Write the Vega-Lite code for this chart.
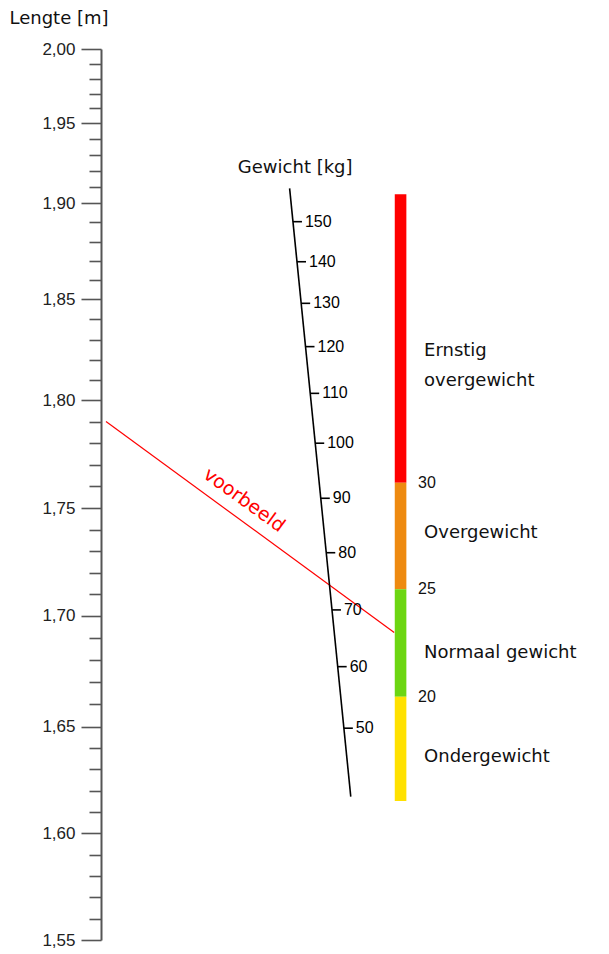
{
  "$schema": "https://vega.github.io/schema/vega-lite/v6.json",
  "width": 508,
  "height": 954,
  "autosize": {"type": "none"},
  "padding": {"left": 101, "top": 0, "right": 0, "bottom": 0},
  "background": "white",
  "view": {"stroke": null},
  "datasets": {
    "voorbeeld": [
      {"positie": 0, "lengte": 1.79, "positie_eind": 57.87, "lengte_eind": 1.6924}
    ],
    "voorbeeld_label": [
      {"positie": 27.76, "lengte": 1.7537, "label": "voorbeeld"}
    ],
    "gewichtsas": [
      {"positie": 36.87, "lengte": 1.9092, "positie_eind": 49.15, "lengte_eind": 1.6172}
    ],
    "gewichtsas_titel": [
      {"positie": 37.99, "lengte": 1.922, "label": "Gewicht [kg]"}
    ],
    "gewicht": [
      {"gewicht": 150, "positie": 37.54, "lengte": 1.8903},
      {"gewicht": 140, "positie": 38.35, "lengte": 1.8695},
      {"gewicht": 130, "positie": 39.19, "lengte": 1.848},
      {"gewicht": 120, "positie": 40.06, "lengte": 1.8265},
      {"gewicht": 110, "positie": 41.0, "lengte": 1.8033},
      {"gewicht": 100, "positie": 42.01, "lengte": 1.78},
      {"gewicht": 90, "positie": 43.13, "lengte": 1.7545},
      {"gewicht": 80, "positie": 44.23, "lengte": 1.7292},
      {"gewicht": 70, "positie": 45.37, "lengte": 1.7026},
      {"gewicht": 60, "positie": 46.52, "lengte": 1.677},
      {"gewicht": 50, "positie": 47.76, "lengte": 1.6493}
    ],
    "bmi_klassen": [
      {"categorie": "Ernstig overgewicht", "positie": 59.15, "lengte": 1.7617, "lengte_eind": 1.9055},
      {"categorie": "Overgewicht", "positie": 59.15, "lengte": 1.7122, "lengte_eind": 1.7617},
      {"categorie": "Normaal gewicht", "positie": 59.15, "lengte": 1.6635, "lengte_eind": 1.7122},
      {"categorie": "Ondergewicht", "positie": 59.15, "lengte": 1.6151, "lengte_eind": 1.6635}
    ],
    "bmi_grenzen": [
      {"bmi": 30, "positie": 59.15, "lengte": 1.7617},
      {"bmi": 25, "positie": 59.15, "lengte": 1.7122},
      {"bmi": 20, "positie": 59.15, "lengte": 1.6635}
    ],
    "bmi_labels": [
      {"label": "Ernstig\novergewicht", "positie": 59.15, "lengte": 1.8243},
      {"label": "Overgewicht", "positie": 59.15, "lengte": 1.7384},
      {"label": "Normaal gewicht", "positie": 59.15, "lengte": 1.6833},
      {"label": "Ondergewicht", "positie": 59.15, "lengte": 1.6359}
    ]
  },
  "encoding": {
    "x": {"field": "positie", "type": "quantitative", "scale": {"domain": [0, 100], "zero": false, "nice": false}, "axis": null},
    "y": {
      "field": "lengte",
      "type": "quantitative",
      "scale": {
        "domain": [1.55, 1.6, 1.65, 1.7, 1.75, 1.8, 1.85, 1.9, 1.95, 2.0],
        "range": [940, 833.3, 726.7, 615.5, 508, 400, 299.3, 203, 123.3, 49],
        "zero": false,
        "nice": false
      },
      "axis": {
        "title": "Lengte [m]",
        "titleAngle": 0,
        "titleAlign": "left",
        "titleBaseline": "middle",
        "titleX": -92,
        "titleY": 18,
        "titleFont": "DejaVu Sans",
        "titleFontSize": 18,
        "titleFontWeight": "normal",
        "titleColor": "#111111",
        "values": [1.55, 1.56, 1.57, 1.58, 1.59, 1.6, 1.61, 1.62, 1.63, 1.64, 1.65, 1.66, 1.67, 1.68, 1.69, 1.7, 1.71, 1.72, 1.73, 1.74, 1.75, 1.76, 1.77, 1.78, 1.79, 1.8, 1.81, 1.82, 1.83, 1.84, 1.85, 1.86, 1.87, 1.88, 1.89, 1.9, 1.91, 1.92, 1.93, 1.94, 1.95, 1.96, 1.97, 1.98, 1.99, 2.0],
        "labelExpr": "round(datum.value * 100) % 5 == 0 ? replace(format(datum.value, '.2f'), '.', ',') : ''",
        "labelFont": "Liberation Sans",
        "labelFontSize": 17,
        "labelColor": "#222222",
        "labelBaseline": "middle",
        "labelPadding": 6,
        "labelOverlap": false,
        "labelBound": false,
        "tickSize": {"condition": {"test": "round(datum.value * 100) % 5 == 0", "value": 20}, "value": 12},
        "tickWidth": 1.6,
        "tickColor": "#555555",
        "domainColor": "#555555",
        "domainWidth": 2,
        "grid": false
      }
    }
  },
  "layer": [
    {
      "data": {"name": "voorbeeld"},
      "mark": {"type": "rule", "color": "#FF0000", "strokeWidth": 1.2},
      "encoding": {
        "x2": {"field": "positie_eind"},
        "y2": {"field": "lengte_eind"}
      }
    },
    {
      "data": {"name": "voorbeeld_label"},
      "mark": {"type": "text", "font": "DejaVu Sans", "fontSize": 19, "color": "#FF0000", "angle": 36, "align": "center", "baseline": "middle"},
      "encoding": {
        "text": {"field": "label"}
      }
    },
    {
      "data": {"name": "gewichtsas"},
      "mark": {"type": "rule", "color": "#000000", "strokeWidth": 1.6},
      "encoding": {
        "x2": {"field": "positie_eind"},
        "y2": {"field": "lengte_eind"}
      }
    },
    {
      "data": {"name": "gewichtsas_titel"},
      "mark": {"type": "text", "font": "DejaVu Sans", "fontSize": 18, "color": "#111111", "align": "center", "baseline": "middle"},
      "encoding": {
        "text": {"field": "label"}
      }
    },
    {
      "data": {"name": "gewicht"},
      "mark": {"type": "rule", "color": "#000000", "strokeWidth": 1.6, "x2Offset": 9},
      "encoding": {
        "x2": {"field": "positie"}
      }
    },
    {
      "data": {"name": "gewicht"},
      "mark": {"type": "text", "font": "Liberation Sans", "fontSize": 16, "color": "#000000", "align": "left", "baseline": "middle", "dx": 12},
      "encoding": {
        "text": {"field": "gewicht", "type": "quantitative"}
      }
    },
    {
      "data": {"name": "bmi_klassen"},
      "mark": {"type": "bar", "width": 11.6},
      "encoding": {
        "y2": {"field": "lengte_eind"},
        "color": {
          "field": "categorie",
          "type": "nominal",
          "scale": {
            "domain": ["Ondergewicht", "Normaal gewicht", "Overgewicht", "Ernstig overgewicht"],
            "range": ["#FFE100", "#6CD612", "#EE8A10", "#FF0000"]
          },
          "legend": null
        }
      }
    },
    {
      "data": {"name": "bmi_grenzen"},
      "mark": {"type": "text", "font": "Liberation Sans", "fontSize": 16, "color": "#111111", "align": "left", "baseline": "middle", "dx": 17.5},
      "encoding": {
        "text": {"field": "bmi", "type": "quantitative"}
      }
    },
    {
      "data": {"name": "bmi_labels"},
      "mark": {"type": "text", "font": "DejaVu Sans", "fontSize": 18, "color": "#111111", "align": "left", "baseline": "middle", "dx": 23.5, "lineBreak": "\n", "lineHeight": 30},
      "encoding": {
        "text": {"field": "label"}
      }
    }
  ]
}
